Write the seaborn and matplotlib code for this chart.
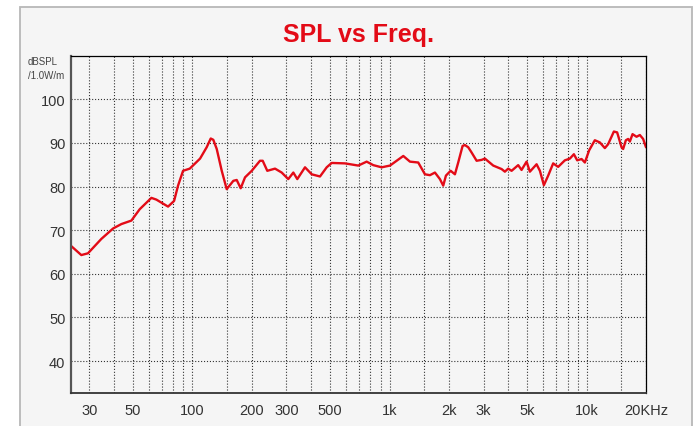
import matplotlib
matplotlib.use('Agg')
import matplotlib.pyplot as plt
from matplotlib.patches import Rectangle
from matplotlib.ticker import FixedLocator, NullFormatter
import pandas as pd
import seaborn as sns

# datos
frecuencias = [24.2, 27.3, 29.5, 34.5, 39.6, 43.6, 49.0, 54.0, 61.9, 65.6,
               75.2, 80.7, 84.5, 89.6, 96.9, 109.3, 118.1, 123.8, 127.6, 132.8,
               140.8, 149.2, 161.2, 167.7, 175.7, 184.8, 199.9, 220.1, 227.2, 239.7,
               262.4, 283.7, 306.3, 324.9, 340.3, 372.4, 402.7, 443.7, 479.8, 508.6,
               593.9, 693.9, 765.3, 826.6, 911.7, 1005, 1174, 1269, 1398, 1512,
               1603, 1699, 1801, 1872, 1932, 2041, 2146, 2230, 2347, 2411,
               2506, 2607, 2765, 2931, 3046, 3357, 3702, 3847, 3999, 4161,
               4493, 4674, 4956, 5151, 5571, 5791, 6066, 6379, 6762, 7167,
               7752, 8220, 8613, 8952, 9423, 9792, 10296, 11001, 11667, 12366,
               12852, 13740, 14277, 15030, 15315, 15804, 16236, 16560, 17091, 17910,
               18612, 19341, 20000]
spl = [66.4, 64.3, 64.7, 68.0, 70.4, 71.4, 72.2, 74.8, 77.4, 77.0,
       75.4, 76.7, 80.2, 83.6, 84.1, 86.4, 89.0, 91.0, 90.7, 88.6,
       83.6, 79.4, 81.3, 81.5, 79.6, 82.1, 83.6, 85.9, 85.9, 83.6,
       84.1, 83.2, 81.7, 83.2, 81.7, 84.4, 82.8, 82.3, 84.4, 85.4,
       85.3, 84.8, 85.7, 84.9, 84.4, 84.8, 87.0, 85.7, 85.5, 82.8,
       82.6, 83.2, 81.7, 80.2, 82.5, 83.6, 82.8, 85.5, 89.3, 89.5,
       89.0, 87.8, 85.9, 86.1, 86.4, 84.8, 84.0, 83.4, 84.1, 83.6,
       84.9, 83.8, 85.7, 83.4, 85.1, 83.6, 80.3, 82.5, 85.3, 84.5,
       86.0, 86.4, 87.4, 86.0, 86.3, 85.5, 88.3, 90.6, 90.1, 88.8,
       89.7, 92.6, 92.4, 89.0, 88.6, 90.6, 90.9, 90.3, 92.0, 91.4,
       91.8, 90.9, 89.0]

ticks_x = [30, 50, 100, 200, 300, 500, 1000, 2000, 3000, 5000, 10000, 20000]
etiquetas_x = ['30', '50', '100', '200', '300', '500', '1k', '2k', '3k', '5k', '10k', '20KHz']
grilla_x = [30, 40, 50, 60, 70, 80, 90, 100, 150, 200, 300, 400, 500, 600, 700, 800, 900,
            1000, 1500, 2000, 3000, 4000, 5000, 6000, 7000, 8000, 9000, 10000, 15000]
ticks_y = [40, 50, 60, 70, 80, 90, 100]

sns.set_style('white')
plt.rcParams['font.family'] = ['Liberation Sans', 'DejaVu Sans']

rojo = '#e30b17'
fondo = '#f5f5f5'

fig = plt.figure(figsize=(6.93, 4.27), dpi=100)
fig.patch.set_facecolor('white')
# marco gris de fondo
marco = Rectangle((20 / 693.0, -0.05), 672 / 693.0, 1.05 - 8 / 427.0,
                  transform=fig.transFigure, facecolor=fondo,
                  edgecolor='#b8b8b8', linewidth=1.3, zorder=-5)
fig.add_artist(marco)

ax = fig.add_axes([71 / 693.0, 33 / 427.0, 575 / 693.0, 337 / 427.0])
ax.set_facecolor(fondo)

df = pd.DataFrame({'Frecuencia': frecuencias, 'SPL': spl})
sns.lineplot(data=df, x='Frecuencia', y='SPL', ax=ax, color=rojo, linewidth=1.7)

ax.set_xscale('log')
ax.set_xlim(24.2, 20000)
ax.set_ylim(32.7, 109.9)

ax.xaxis.set_major_locator(FixedLocator(ticks_x))
ax.set_xticklabels(etiquetas_x)
ax.xaxis.set_minor_locator(FixedLocator(grilla_x))
ax.xaxis.set_minor_formatter(NullFormatter())
ax.set_yticks(ticks_y)

ax.grid(True, which='both', axis='x', linestyle=':', color='#333333', linewidth=0.8)
ax.grid(True, which='major', axis='y', linestyle=':', color='#333333', linewidth=0.8)
ax.tick_params(axis='both', which='both', length=0, labelsize=10.5, labelcolor='#333333')
ax.tick_params(axis='x', pad=7)
ax.tick_params(axis='y', pad=4)

ax.set_xlabel('')
ax.set_ylabel('')

for lado in ['top', 'right']:
    ax.spines[lado].set_color('black')
    ax.spines[lado].set_linewidth(0.9)
ax.spines['left'].set_color('#555555')
ax.spines['left'].set_linewidth(1.6)
ax.spines['bottom'].set_color('#333333')
ax.spines['bottom'].set_linewidth(1.3)

fig.text(0.517, 1 - 35 / 427.0, 'SPL vs Freq.', color=rojo, fontsize=18,
         fontweight='bold', ha='center', va='center')
fig.text(28 / 693.0, 1 - 57 / 427.0, 'dBSPL\n/1.0W/m', color='#444444', fontsize=7,
         ha='left', va='top', linespacing=1.5)

fig.savefig('out.png', dpi=100)
